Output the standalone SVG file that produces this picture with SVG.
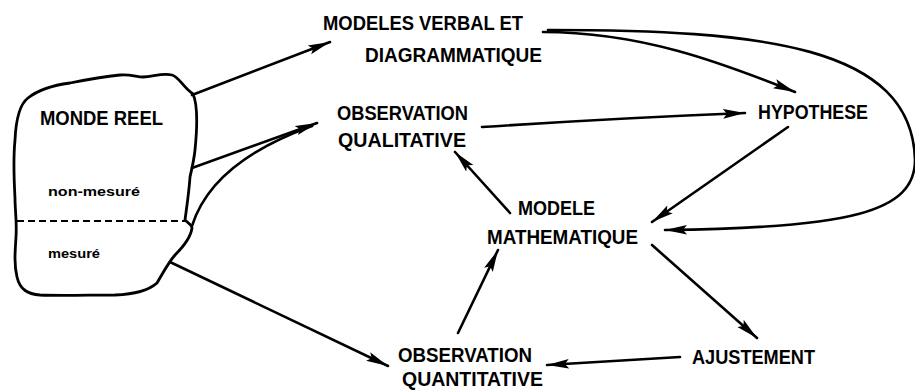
<svg xmlns="http://www.w3.org/2000/svg" width="915" height="391" viewBox="0 0 915 391">
<style>
.t{font-family:"Liberation Sans",Arial,sans-serif;font-weight:bold;fill:#000;}
.b{font-size:20px;}
.s{font-size:12px;}
.c{fill:none;stroke:#000;stroke-width:2.6;stroke-linecap:round;}
.a{marker-end:url(#ah);}
</style>
<defs>
<marker id="ah" markerUnits="userSpaceOnUse" markerWidth="24" markerHeight="12" viewBox="0 0 24 12" refX="22" refY="6" orient="auto">
<path d="M0,1.2 L22,6 L0,10.8 L4,6 z" fill="#000"/>
</marker>
</defs>
<rect width="915" height="391" fill="#fff"/>
<g id="monde-reel">
<path d="M15,140 C16,118 20,104 28,98 C38,90 55,85 70,83 C85,80 100,77 120,75 C130,74 137,77 143,77 C155,76 163,73 172,75 C179,77 183,87 193,94 C198,105 197,130 195,150 C194,160 192,168 190,177 C189,192 187,205 185,220 C188,223 192,225 192,228 C191,236 185,245 175,255 C168,263 163,273 157,283 C148,291 135,294 115,295 C90,295 60,296 40,295 C28,294 20,290 17,277 C14,265 15,252 16,237 C17,222 15,210 15,198 C14,180 13,160 15,140 z" fill="none" stroke="#000" stroke-width="2.8" stroke-linejoin="round"/>
<line x1="17" y1="221" x2="186" y2="221" stroke="#000" stroke-width="2.2" stroke-dasharray="7,4"/>
<text class="t b" x="40" y="125" textLength="123" lengthAdjust="spacingAndGlyphs">MONDE REEL</text>
<text class="t s" x="48" y="196" textLength="92" lengthAdjust="spacingAndGlyphs">non-mesuré</text>
<text class="t s" x="48" y="258" textLength="52" lengthAdjust="spacingAndGlyphs">mesuré</text>
</g>
<g id="modeles-verbal">
<text class="t b" x="323" y="30" textLength="200" lengthAdjust="spacingAndGlyphs">MODELES VERBAL ET</text>
<text class="t b" x="365" y="62" textLength="177" lengthAdjust="spacingAndGlyphs">DIAGRAMMATIQUE</text>
</g>
<g id="observation-qualitative">
<text class="t b" x="337" y="120" textLength="131" lengthAdjust="spacingAndGlyphs">OBSERVATION</text>
<text class="t b" x="338" y="147" textLength="128" lengthAdjust="spacingAndGlyphs">QUALITATIVE</text>
</g>
<g id="hypothese">
<text class="t b" x="758" y="119" textLength="110" lengthAdjust="spacingAndGlyphs">HYPOTHESE</text>
</g>
<g id="modele-mathematique">
<text class="t b" x="518" y="215" textLength="77" lengthAdjust="spacingAndGlyphs">MODELE</text>
<text class="t b" x="487" y="244" textLength="151" lengthAdjust="spacingAndGlyphs">MATHEMATIQUE</text>
</g>
<g id="ajustement">
<text class="t b" x="692" y="364" textLength="123" lengthAdjust="spacingAndGlyphs">AJUSTEMENT</text>
</g>
<g id="observation-quantitative">
<text class="t b" x="398" y="362" textLength="134" lengthAdjust="spacingAndGlyphs">OBSERVATION</text>
<text class="t b" x="402" y="386" textLength="141" lengthAdjust="spacingAndGlyphs">QUANTITATIVE</text>
</g>
<g id="connectors">
<path class="c a" d="M192,95 L330,42"/>
<path class="c a" d="M192,168 L317,123"/>
<path class="c" d="M192,226 Q212,162 312,126"/>
<path class="c a" d="M170,262 L388,366"/>
<path class="c a" d="M543,32 C640,32 720,62 795,92"/>
<path class="c a" d="M548,30 C760,30 912,45 915,160 C915,212 850,228 665,230"/>
<path class="c a" d="M482,127 Q620,118 745,113"/>
<path class="c a" d="M788,127 L652,222"/>
<path class="c a" d="M510,213 L455,152"/>
<path class="c a" d="M652,245 L757,338"/>
<path class="c a" d="M680,357 L547,365"/>
<path class="c a" d="M458,333 L498,250"/>
</g>
</svg>
